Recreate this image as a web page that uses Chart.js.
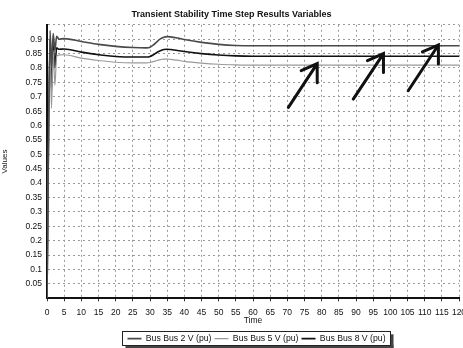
<!DOCTYPE html>
<html><head><meta charset="utf-8">
<script src="https://cdn.jsdelivr.net/npm/chart.js@4"></script>
<style>html,body{margin:0;padding:0;background:#fff}</style>
</head><body>
<canvas id="c" width="463" height="348"></canvas>
<script>
const times = [0, 0.9, 1.3, 1.8, 2.3, 2.8, 3.5, 5, 10, 15, 20, 25, 29, 30, 31, 32, 33, 34, 35, 36, 38, 40, 45, 50, 55, 60, 65, 120];
const bus2  = [0, 0.93, 0.80, 0.92, 0.86, 0.91, 0.90, 0.902, 0.892, 0.882, 0.875, 0.871, 0.870, 0.872, 0.880, 0.891, 0.901, 0.907, 0.909, 0.908, 0.904, 0.899, 0.889, 0.882, 0.878, 0.877, 0.877, 0.877];
const bus5  = [0, 0.88, 0.66, 0.86, 0.74, 0.84, 0.845, 0.846, 0.834, 0.826, 0.820, 0.818, 0.818, 0.819, 0.822, 0.826, 0.829, 0.831, 0.831, 0.830, 0.827, 0.823, 0.817, 0.813, 0.811, 0.810, 0.810, 0.810];
const bus8  = [0, 0.90, 0.72, 0.88, 0.80, 0.87, 0.865, 0.866, 0.855, 0.846, 0.840, 0.838, 0.838, 0.840, 0.846, 0.854, 0.860, 0.864, 0.865, 0.864, 0.861, 0.857, 0.850, 0.845, 0.842, 0.841, 0.841, 0.841];
const seriesNames = ['Bus Bus 2 V (pu)', 'Bus Bus 5 V (pu)', 'Bus Bus 8 V (pu)'];
const chartTitle = 'Transient Stability Time Step Results Variables';
const xTitle = 'Time';
const yTitle = 'Values';
// hand-drawn arrows (tail -> head) in data units
const arrowTails = [[70.3, 0.663], [89.2, 0.692], [105.2, 0.721]];
const arrowHeads = [[78.7, 0.815], [98.0, 0.850], [114.0, 0.880]];

const pts = v => times.map((t, i) => ({x: t, y: v[i]}));
const FONT = 'Liberation Sans, Arial, sans-serif';

const arrowPlugin = {
  id: 'arrows',
  afterDatasetsDraw(chart) {
    const {ctx, scales: {x, y}} = chart;
    ctx.save();
    ctx.strokeStyle = '#111';
    ctx.lineWidth = 3;
    ctx.lineCap = 'round';
    arrowTails.forEach((tl, i) => {
      const hd = arrowHeads[i];
      const x0 = x.getPixelForValue(tl[0]), y0 = y.getPixelForValue(tl[1]);
      const x1 = x.getPixelForValue(hd[0]), y1 = y.getPixelForValue(hd[1]);
      ctx.beginPath();
      ctx.moveTo(x0, y0); ctx.lineTo(x1, y1);
      ctx.moveTo(x1 - 16, y1 + 7); ctx.lineTo(x1, y1); ctx.lineTo(x1, y1 + 19);
      ctx.stroke();
    });
    ctx.restore();
  }
};

// centre the legend under the plot area and nudge it down (hit boxes are rebuilt afterwards by the legend plugin)
const LEG_DX = 25, LEG_DY = 6;
const legendShiftPlugin = {
  id: 'legendShift',
  afterLayout(chart) {
    const lg = chart.legend;
    if (!lg) return;
    lg.left += 2 * LEG_DX;
    lg.top += LEG_DY; lg.bottom += LEG_DY;
  }
};

const legendBoxPlugin = {
  id: 'legendBox',
  afterDraw(chart) {
    const boxes = chart.legend.legendHitBoxes;
    if (!boxes || !boxes.length) return;
    let l = Infinity, r = -Infinity, t = Infinity, b = -Infinity;
    boxes.forEach(h => { l = Math.min(l, h.left); r = Math.max(r, h.left + h.width); t = Math.min(t, h.top); b = Math.max(b, h.top + h.height); });
    const ctx = chart.ctx;
    ctx.save();
    l -= 5; r += 5; t -= 3; b += 2;
    ctx.fillStyle = '#444';
    ctx.fillRect(l + 3, b, r - l, 3);
    ctx.fillRect(r, t + 3, 3, b - t);
    ctx.strokeStyle = '#222';
    ctx.lineWidth = 1;
    ctx.strokeRect(Math.round(l) + 0.5, Math.round(t) + 0.5, Math.round(r - l), Math.round(b - t));
    ctx.restore();
  }
};

new Chart(document.getElementById('c'), {
  type: 'line',
  data: {
    datasets: [
      {label: seriesNames[0], data: pts(bus2), borderColor: '#4a4a4a', borderWidth: 1.6},
      {label: seriesNames[1], data: pts(bus5), borderColor: '#9a9a9a', borderWidth: 1.2},
      {label: seriesNames[2], data: pts(bus8), borderColor: '#111111', borderWidth: 1.6}
    ]
  },
  options: {
    responsive: false,
    animation: false,
    devicePixelRatio: 1,
    layout: {padding: {top: 0, right: 0, bottom: 1, left: 0}},
    elements: {
      point: {radius: 0},
      line: {cubicInterpolationMode: 'monotone', fill: false}
    },
    plugins: {
      title: {display: true, text: chartTitle, color: '#111', font: {family: FONT, size: 9, weight: 'bold'}, padding: {top: 9, bottom: 5}},
      legend: {
        position: 'bottom',
        labels: {usePointStyle: true, pointStyle: 'line', pointStyleWidth: 14, boxHeight: 6, color: '#111', padding: 3, font: {family: FONT, size: 8.7}}
      },
      tooltip: {enabled: false}
    },
    scales: {
      x: {
        type: 'linear', min: 0, max: 120,
        ticks: {stepSize: 5, color: '#111', font: {family: FONT, size: 8.5}, padding: 6, maxRotation: 0, autoSkip: false},
        grid: {color: '#999', lineWidth: 1, drawTicks: true, tickLength: 3, tickColor: '#333'},
        border: {display: true, color: '#111', width: 2, dash: [2, 3]},
        title: {display: true, text: xTitle, color: '#111', font: {family: FONT, size: 8.5}, padding: {top: 0, bottom: 0}},
        afterFit(s) { s.height = 27; s.paddingRight = 4; }
      },
      y: {
        min: 0, max: 0.95,
        ticks: {stepSize: 0.05, color: '#111', font: {family: FONT, size: 8.5}, padding: 5,
          callback: v => (v <= 0.001 || v >= 0.949) ? '' : String(Math.round(v * 100) / 100)},
        grid: {color: '#999', lineWidth: 1, drawTicks: false},
        border: {display: true, color: '#111', width: 2, dash: [2, 3]},
        title: {display: true, text: yTitle, color: '#111', font: {family: FONT, size: 8}, padding: 0},
        afterFit(s) { s.width = 47; }
      }
    }
  },
  plugins: [arrowPlugin, legendShiftPlugin, legendBoxPlugin]
});
</script>
</body></html>
